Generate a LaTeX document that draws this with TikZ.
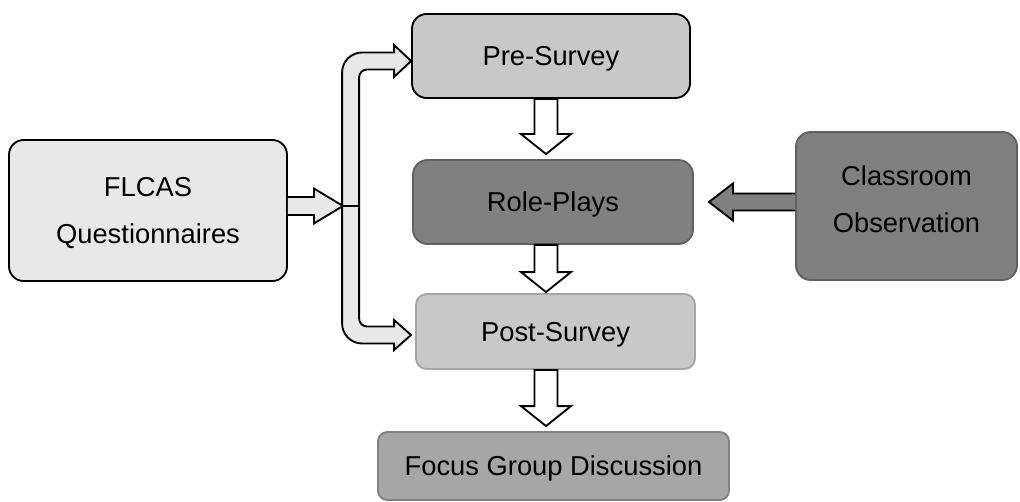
\documentclass[tikz,border=0pt]{standalone}
\usepackage{fontspec}
\setmainfont{Liberation Sans}
\usetikzlibrary{calc}
\definecolor{lightbox}{HTML}{C8C8C8}
\definecolor{darkbox}{HTML}{808080}
\definecolor{palebox}{HTML}{E8E8E8}
\definecolor{midbox}{HTML}{A6A6A6}
\definecolor{darkline}{HTML}{606060}
\newcommand\vblk[2]{%
  \path[blockarrow] ($(#1)+(-11.5,0)$) -- ($(#2)+(-11.5,-20)$) -- ($(#2)+(-25,-20)$) -- (#2)
    -- ($(#2)+(25,-20)$) -- ($(#2)+(11.5,-20)$) -- ($(#1)+(11.5,0)$) -- cycle;}
\begin{document}
\begin{tikzpicture}[x=0.75pt,y=-0.75pt,
  box/.style={rounded corners=11pt, line width=1.4pt, inner sep=0pt, align=center,
    text depth=0pt, font=\fontsize{20.5}{35}\selectfont},
  blockarrow/.style={draw=black, line width=1.4pt, fill=white, line join=miter}]
\useasboundingbox (0,0) rectangle (1020,502);
\node[box, draw=black, fill=lightbox, minimum width=278*0.75pt, minimum height=84*0.75pt] (pre) at (551,56) {Pre-Survey};
\node[box, draw=darkline, fill=darkbox, minimum width=280*0.75pt, minimum height=84*0.75pt] (role) at (553,202) {Role-Plays};
\node[box, rounded corners=8pt, draw=midbox, fill=lightbox, minimum width=279*0.75pt, minimum height=75*0.75pt] (post) at (555.5,331.5) {Post-Survey};
\node[box, rounded corners=7pt, draw=darkbox, fill=midbox, minimum width=351*0.75pt, minimum height=68*0.75pt] (focus) at (553.5,466) {Focus Group Discussion};
\node[box, draw=black, fill=palebox, minimum width=278*0.75pt, minimum height=141*0.75pt] (flcas) at (148,210.5) {FLCAS\\Questionnaires};
\node[box, draw=darkline, fill=darkbox, minimum width=221*0.75pt, minimum height=148*0.75pt] (obs) at (906.5,206) {Classroom\\Observation\\[-25pt]\mbox{}};
% vertical block arrows
\coordinate (ax) at (546,0);
\coordinate (a1s) at (ax |- pre.south);
\coordinate (a1t) at ($(ax |- role.north)+(0,-5)$);
\coordinate (a2s) at (ax |- role.south);
\coordinate (a2t) at ($(ax |- post.north)+(0,-1)$);
\coordinate (a3s) at (ax |- post.south);
\coordinate (a3t) at ($(ax |- focus.north)+(0,-5)$);
\vblk{a1s}{a1t}
\vblk{a2s}{a2t}
\vblk{a3s}{a3t}
% FLCAS to bracket
\coordinate (fs) at ($(flcas.east)+(0,-4.5)$);
\coordinate (ft) at ($(fs)+(55,0)$);
\path[blockarrow, fill=palebox] ($(fs)+(0,-9)$) -- ($(ft)+(-29,-9)$) -- ($(ft)+(-29,-17.5)$) -- (ft)
  -- ($(ft)+(-29,17.5)$) -- ($(ft)+(-29,9)$) -- ($(fs)+(0,9)$);
% bracket
\coordinate (ptip) at ($(pre.west)+(0,5)$);
\coordinate (qtip) at ($(post.west)+(-4,3.5)$);
\path[blockarrow, fill=palebox] (ptip) -- ($(ptip)+(-17,-16)$) -- ($(ptip)+(-17,-8.5)$)
  [rounded corners=15pt] -- ($(ptip)+(-69,-8.5)$) -- ($(qtip)+(-69,8.5)$) [sharp corners]
  -- ($(qtip)+(-17,8.5)$) -- ($(qtip)+(-17,15)$) -- (qtip) -- ($(qtip)+(-17,-15)$) -- ($(qtip)+(-17,-8.5)$)
  [rounded corners=6pt] -- ($(qtip)+(-52,-8.5)$) -- ($(ptip)+(-52,8.5)$) [sharp corners]
  -- ($(ptip)+(-17,8.5)$) -- ($(ptip)+(-17,16)$) -- cycle;
\draw[line width=1.4pt] (ft) -- ++(17,0);
% observation arrow
\coordinate (os) at (obs.west |- role.east);
\coordinate (ot) at ($(role.east)+(15,0)$);
\path[blockarrow, fill=darkbox] ($(os)+(0,-8.5)$) -- ($(ot)+(24,-8.5)$) -- ($(ot)+(24,-18.5)$) -- (ot)
  -- ($(ot)+(24,18.5)$) -- ($(ot)+(24,8.5)$) -- ($(os)+(0,8.5)$);
\end{tikzpicture}
\end{document}
